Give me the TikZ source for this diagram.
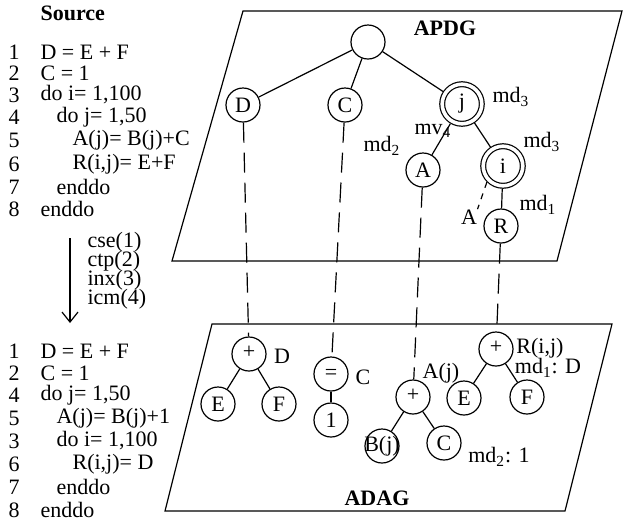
\documentclass[tikz,border=0pt]{standalone}
\usepackage{fontspec}
\setmainfont{Liberation Serif}
\usetikzlibrary{arrows.meta, positioning}

\tikzset{
  vtx/.style={circle, draw, minimum size=17pt, inner sep=0pt},
  dvtx/.style={circle, draw, double, double distance=1.8pt, minimum size=19.8pt, inner sep=0pt, outer sep=1.5pt},
  link/.style={dash pattern=on 10pt off 5pt},
  code/.style={anchor=west, inner sep=0pt},
  tight/.style={code, text height=7pt, text depth=1.5pt},
}

\begin{document}
\begin{tikzpicture}[x=0.5pt, y=-0.5pt, line width=0.6pt, font=\fontsize{11}{13}\selectfont]
    \useasboundingbox (0,0) rectangle (623,527);

    % Source program
    \node[code, font=\fontsize{11}{13}\selectfont\bfseries] (src) at (40,13) {Source};
    \foreach \n/\t/\ind/\y [count=\k] in {1/{D = E + F}/0/52, 2/{C = 1}/0/73, 3/{do i= 1,100}/0/95,
        4/{do j= 1,50}/1/117, 5/{A(j)= B(j)+C}/2/140, 6/{R(i,j)= E+F}/2/164, 7/{enddo}/1/187, 8/{enddo}/0/209}
      \node[code] (sn\k) at (8,\y) {\n} node[code] (st\k) at (40+16*\ind,\y) {\t};

    % Transformations
    \coordinate (ta) at (70,238);
    \coordinate (tb) at (70,323);
    \draw[-{Straight Barb[length=5pt, width=8pt]}] (ta) -- (tb);
    \foreach \t/\y [count=\k] in {cse(1)/242, ctp(2)/261, inx(3)/280, icm(4)/299}
      \node[tight] (tr\k) at (87,\y) {\t};

    % Transformed program
    \foreach \n/\t/\ind/\y [count=\k] in {1/{D = E + F}/0/351, 2/{C = 1}/0/373, 4/{do j= 1,50}/0/395,
        5/{A(j)= B(j)+1}/1/418, 3/{do i= 1,100}/1/441, 6/{R(i,j)= D}/2/464, 7/{enddo}/1/487, 8/{enddo}/0/510}
      \node[code] (tn\k) at (8,\y) {\n} node[code] (tt\k) at (40+16*\ind,\y) {\t};

    % APDG plane
    \draw (243,11) -- (622,11) -- (557,261) -- (172,261) -- cycle;
    \node[font=\fontsize{11}{13}\selectfont\bfseries] (apdg) at (445,28) {APDG};

    \node[vtx] (root) at (368,42) {};
    \node[vtx] (d) at (243,105) {D};
    \node[vtx] (c) at (345,105) {C};
    \node[dvtx] (j) at (462,104) {j};
    \node[vtx] (a) at (423,170) {A};
    \node[dvtx] (i) at (503,166) {i};
    \node[vtx] (r) at (501,226) {R};
    \draw (root) -- (d);
    \draw (root) -- (c);
    \draw (root) -- (j);
    \draw (j) -- (a);
    \draw (j) -- (i);
    \draw (i) -- (r);
    \node[inner sep=0pt] (al) at (469,217) {A};
    \draw[dashed] (i.225) -- (al.north east);

    \node (md3a) at (511,97) {md\textsubscript{3}};
    \node (mv4) at (433,131) {mv\textsubscript{4}};
    \node (md2) at (382,146) {md\textsubscript{2}};
    \node (md3b) at (542,142) {md\textsubscript{3}};
    \node (md1) at (538,205) {md\textsubscript{1}};

    % ADAG plane
    \draw (212,324) -- (612,324) -- (565,511) -- (165,511) -- cycle;
    \node[font=\fontsize{11}{13}\selectfont\bfseries] (adag) at (377,498) {ADAG};

    \node[vtx] (pd) at (249,354) {\raisebox{2pt}{+}};
    \node[vtx] (e1) at (218,404) {E};
    \node[vtx] (f1) at (279,404) {F};
    \draw (pd) -- (e1);
    \draw (pd) -- (f1);
    \node (ld) at (282,356) {D};

    \node[vtx] (eq) at (331,374) {=};
    \node[vtx] (one) at (331,420) {1};
    \draw (eq) -- (one);
    \node (lc) at (363,377) {C};

    \node[vtx] (pa) at (413,397) {\raisebox{2pt}{+}};
    \node[vtx] (bj) at (382,446) {\makebox[0pt]{B(j)}};
    \node[vtx] (cc) at (444,443) {C};
    \draw (pa) -- (bj);
    \draw (pa) -- (cc);
    \node (laj) at (441,373) {A(j)};
    \node (lmd2) at (499,457) {md\textsubscript{2}: 1};

    \node[vtx] (pr) at (496,349) {\raisebox{2pt}{+}};
    \node[vtx] (e2) at (464,398) {E};
    \node[vtx] (f2) at (527,397) {F};
    \draw (pr) -- (e2);
    \draw (pr) -- (f2);
    \node (lrij) at (540,348) {R(i,j)};
    \node (lmd1) at (548,368) {md\textsubscript{1}: D};

    % Correspondence between the graphs
    \draw[link] (d) -- (pd);
    \draw[link] (c) -- (eq);
    \draw[link] (a) -- (pa);
    \draw[link] (r) -- (pr);
\end{tikzpicture}
\end{document}
